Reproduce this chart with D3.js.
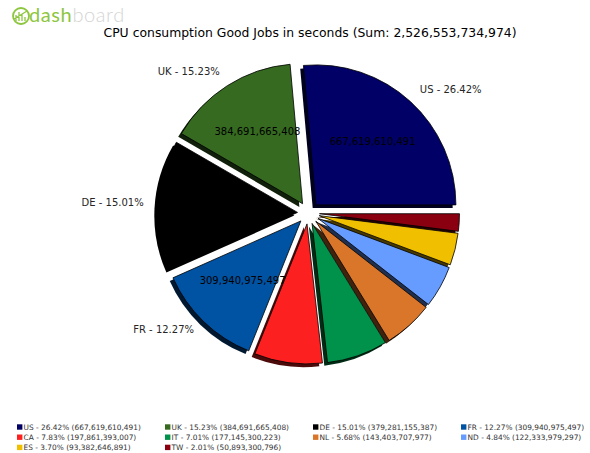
<!DOCTYPE html>
<html>
<head>
<meta charset="utf-8">
<script src="https://cdn.jsdelivr.net/npm/d3@7"></script>
<style>
  html, body { margin: 0; padding: 0; background: #fff; }
  svg { display: block; font-family: "DejaVu Sans", sans-serif; }
</style>
</head>
<body>
<svg id="chart" width="590" height="453"></svg>
<script>
// Countries, CPU seconds and their stated shares
const countries = ["US", "UK", "DE", "FR", "CA", "IT", "NL", "ND", "ES", "TW"];
const seconds = [667619610491, 384691665408, 379281155387, 309940975497, 197861393007,
                 177145300223, 143403707977, 122333979297, 93382646891, 50893300796];
const shares = [26.42, 15.23, 15.01, 12.27, 7.83, 7.01, 5.68, 4.84, 3.70, 2.01];
const colors = ["#000066", "#366a20", "#000000", "#0052a2", "#fd2020",
                "#00924a", "#d9762a", "#669bff", "#efbf00", "#8a0010"];
const totalLabel = "2,526,553,734,974";

const svg = d3.select("#chart");
const cx = 308.5, cy = 213, R = 140;
const explode = 11;         // every wedge pulled out by the same distance
const shadowDx = -3.2, shadowDy = 3.2;
const fmt = d3.format(",");

// Wedges run counter-clockwise from 3 o'clock
const total = d3.sum(seconds);
const angle = d3.scaleLinear().domain([0, total]).range([0, 2 * Math.PI]);
let acc = 0;
const wedges = seconds.map((v, i) => {
  const a0 = angle(acc); acc += v; const a1 = angle(acc);
  const mid = (a0 + a1) / 2;
  return {
    i, v, a0, a1, mid,
    ox: explode * Math.cos(mid),
    oy: -explode * Math.sin(mid)
  };
});

const arc = d3.arc().innerRadius(0).outerRadius(R);
// d3 angles are clockwise from 12 o'clock
const arcPath = w => arc({ startAngle: Math.PI / 2 - w.a1, endAngle: Math.PI / 2 - w.a0 });

function darker(c) {
  const rgb = d3.rgb(c);
  return d3.rgb(rgb.r * 0.3, rgb.g * 0.3, rgb.b * 0.3).toString();
}

const pie = svg.append("g").attr("transform", `translate(${cx},${cy})`);

// shadows beneath all wedges
pie.selectAll("path.shadow").data(wedges).join("path")
  .attr("class", "shadow")
  .attr("transform", w => `translate(${w.ox + shadowDx},${w.oy + shadowDy})`)
  .attr("d", arcPath)
  .attr("fill", w => darker(colors[w.i]));

pie.selectAll("path.wedge").data(wedges).join("path")
  .attr("class", "wedge")
  .attr("transform", w => `translate(${w.ox},${w.oy})`)
  .attr("d", arcPath)
  .attr("fill", w => colors[w.i])
  .attr("stroke", "#000")
  .attr("stroke-width", 0.8)
  .attr("stroke-linejoin", "round");

// Only the large wedges carry a name and a value
const big = wedges.filter(w => shares[w.i] > 10);

pie.selectAll("text.name").data(big).join("text")
  .attr("class", "name")
  .attr("x", w => w.ox + 1.1 * R * Math.cos(w.mid))
  .attr("y", w => w.oy - 1.1 * R * Math.sin(w.mid) - 2)
  .attr("text-anchor", w => Math.cos(w.mid) > 0 ? "start" : "end")
  .attr("dominant-baseline", "central")
  .attr("font-size", 10)
  .attr("fill", "#262626")
  .text(w => `${countries[w.i]} - ${shares[w.i].toFixed(2)}%`);

pie.selectAll("text.value").data(big).join("text")
  .attr("class", "value")
  .attr("x", w => w.ox + 0.6 * R * Math.cos(w.mid))
  .attr("y", w => w.oy - 0.6 * R * Math.sin(w.mid) - 1)
  .attr("text-anchor", "middle")
  .attr("dominant-baseline", "central")
  .attr("font-size", 10)
  .attr("fill", "#000")
  .text(w => fmt(w.v));

// Title
svg.append("text")
  .attr("x", 310).attr("y", 32)
  .attr("text-anchor", "middle")
  .attr("dominant-baseline", "central")
  .attr("font-size", 12.4)
  .attr("fill", "#000")
  .text(`CPU consumption Good Jobs in seconds (Sum: ${totalLabel})`);

// Brand mark
const logo = svg.append("g");
logo.append("circle").attr("cx", 21).attr("cy", 16).attr("r", 8)
  .attr("fill", "none").attr("stroke", "#8dc63f").attr("stroke-width", 1.8);
logo.append("path")
  .attr("d", "M16,21 L16,15 M19,21 L19,12 M22,21 L22,14 M25,21 L25,17 M14,19 L27,11")
  .attr("stroke", "#8dc63f").attr("stroke-width", 1.3).attr("fill", "none");
const brand = logo.append("text")
  .attr("x", 29).attr("y", 22)
  .attr("font-family", "Lato, sans-serif")
  .attr("font-weight", 400)
  .attr("font-size", 20)
  .attr("letter-spacing", 0.6);
brand.append("tspan").attr("fill", "#8dc63f").text("dash");
brand.append("tspan").attr("fill", "#d4d4d4").attr("font-weight", 300).text("board");

// Legend, four columns filled row by row
const colX = [17, 165, 313, 461];
const rowY = [427, 437.2, 447.4];
const legend = svg.append("g");
const items = legend.selectAll("g").data(wedges).join("g")
  .attr("transform", w => `translate(${colX[w.i % 4]},${rowY[Math.floor(w.i / 4)]})`);
items.append("rect")
  .attr("x", 0).attr("y", -2.7).attr("width", 5.4).attr("height", 5.4)
  .attr("fill", w => colors[w.i]);
items.append("text")
  .attr("x", 6.6).attr("y", 0)
  .attr("dominant-baseline", "central")
  .attr("font-size", 7.4)
  .attr("fill", "#333")
  .text(w => `${countries[w.i]} - ${shares[w.i].toFixed(2)}% (${fmt(w.v)})`);
</script>
</body>
</html>
